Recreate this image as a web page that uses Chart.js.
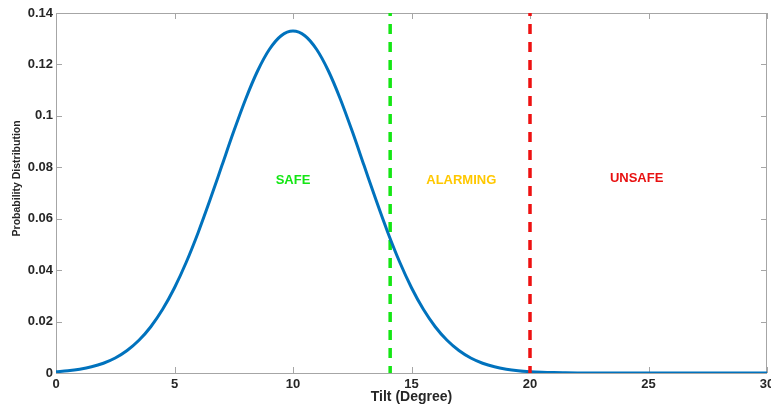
<!DOCTYPE html>
<html>
<head>
<meta charset="utf-8">
<script src="https://cdn.jsdelivr.net/npm/chart.js@4/dist/chart.umd.min.js"></script>
<style>
  html, body { margin: 0; padding: 0; background: #fff; }
  #wrap { width: 771px; height: 407px; }
</style>
</head>
<body>
<div id="wrap"><canvas id="js--chart"></canvas></div>
<script>
// tilt (degree) and probability
const tilt = [0, 0.5, 1, 1.5, 2, 2.5, 3, 3.5, 4, 4.5, 5, 5.5, 6, 6.5, 7, 7.5, 8, 8.5, 9, 9.5,
    10, 10.5, 11, 11.5, 12, 12.5, 13, 13.5, 14, 14.5, 15, 15.5, 16, 16.5, 17, 17.5, 18, 18.5, 19, 19.5,
    20, 20.5, 21, 21.5, 22, 22.5, 23, 23.5, 24, 24.5, 25, 25.5, 26, 26.5, 27, 27.5, 28, 28.5, 29, 29.5, 30];
const prob = [0.00051, 0.00088, 0.00148, 0.00240, 0.00380, 0.00584, 0.00874, 0.01272, 0.01800, 0.02477,
    0.03316, 0.04317, 0.05467, 0.06733, 0.08066, 0.09397, 0.10648, 0.11735, 0.12579, 0.13115,
    0.13298, 0.13115, 0.12579, 0.11735, 0.10648, 0.09397, 0.08066, 0.06733, 0.05467, 0.04317,
    0.03316, 0.02477, 0.01800, 0.01272, 0.00874, 0.00584, 0.00380, 0.00240, 0.00148, 0.00088,
    0.00051, 0.00029, 0.00016, 0.00009, 0.00004, 0.00002, 0.00001, 0, 0, 0,
    0, 0, 0, 0, 0, 0, 0, 0, 0, 0, 0];

// grenzen tussen de zones
const safeLimit = 14.1;
const alarmLimit = 20;

// zone teksten
const zoneNames = ["SAFE", "ALARMING", "UNSAFE"];
const zoneX = [10, 17.1, 24.5];
const zoneY = [0.0747, 0.0750, 0.0758];
const zoneColors = ["#14e614", "#ffc800", "#e81010"];

const xTicks = [0, 5, 10, 15, 20, 25, 30];
const yTicks = [0, 0.02, 0.04, 0.06, 0.08, 0.1, 0.12, 0.14];

let curve = [];
for (let i = 0; i < tilt.length; i++) {
    curve.push({ x: tilt[i], y: prob[i] });
}

const FONT = "'Liberation Sans', Arial, sans-serif";

// matlab achtige box met ticks naar binnen
const boxPlugin = {
    id: "box",
    beforeDatasetsDraw: function (chart) {
        const ctx = chart.ctx;
        const a = chart.chartArea;
        const xs = chart.scales.x;
        const ys = chart.scales.y;
        ctx.save();
        ctx.strokeStyle = "#a6a6a6";
        ctx.lineWidth = 1;
        ctx.strokeRect(a.left + 0.5, a.top + 0.5, a.right - a.left - 1, a.bottom - a.top);
        ctx.beginPath();
        xTicks.forEach(function (v) {
            const px = Math.round(xs.getPixelForValue(v)) + 0.5;
            ctx.moveTo(px, a.bottom);
            ctx.lineTo(px, a.bottom - 6);
            ctx.moveTo(px, a.top);
            ctx.lineTo(px, a.top + 6);
        });
        yTicks.forEach(function (v) {
            const py = Math.round(ys.getPixelForValue(v)) + 0.5;
            ctx.moveTo(a.left, py);
            ctx.lineTo(a.left + 6, py);
            ctx.moveTo(a.right, py);
            ctx.lineTo(a.right - 6, py);
        });
        ctx.stroke();
        ctx.restore();
    },
    afterDatasetsDraw: function (chart) {
        const ctx = chart.ctx;
        ctx.save();
        ctx.font = "bold 13px " + FONT;
        ctx.textAlign = "center";
        ctx.textBaseline = "middle";
        for (let i = 0; i < zoneNames.length; i++) {
            ctx.fillStyle = zoneColors[i];
            ctx.fillText(zoneNames[i],
                chart.scales.x.getPixelForValue(zoneX[i]),
                chart.scales.y.getPixelForValue(zoneY[i]));
        }
        ctx.restore();
    }
};

const config = {
    type: "line",
    data: {
        datasets: [
            {
                label: "alarm",
                data: [{ x: alarmLimit, y: 0.14 }, { x: alarmLimit, y: 0 }],
                borderColor: "#ee1111",
                borderWidth: 3.5,
                borderDash: [10, 8],
                borderDashOffset: 7,
                pointRadius: 0
            },
            {
                label: "Probability",
                data: curve,
                borderColor: "#0072bd",
                borderWidth: 3,
                pointRadius: 0,
                cubicInterpolationMode: "monotone"
            },
            {
                label: "safe",
                data: [{ x: safeLimit, y: 0.14 }, { x: safeLimit, y: 0 }],
                borderColor: "#14e614",
                borderWidth: 3.5,
                borderDash: [10, 8],
                borderDashOffset: 7,
                pointRadius: 0
            }
        ]
    },
    options: {
        responsive: true,
        maintainAspectRatio: false,
        animation: false,
        layout: { padding: { top: 13, right: 4, left: 0, bottom: 0 } },
        plugins: { legend: { display: false }, tooltip: { enabled: false } },
        scales: {
            x: {
                type: "linear",
                min: 0,
                max: 30,
                grid: { display: false, drawTicks: false },
                border: { display: false },
                ticks: {
                    stepSize: 5,
                    maxRotation: 0,
                    autoSkip: false,
                    padding: 4,
                    color: "#262626",
                    font: { family: FONT, size: 13, weight: "bold" }
                },
                title: {
                    display: true,
                    text: "Tilt (Degree)",
                    color: "#262626",
                    font: { family: FONT, size: 14, weight: "bold" },
                    padding: { top: 0, bottom: 1 }
                },
                afterFit: function (s) {
                    s.height = 34;
                    s.paddingLeft = 0;
                    s.paddingRight = 0;
                }
            },
            y: {
                min: 0,
                max: 0.14,
                grid: { display: false, drawTicks: false },
                border: { display: false },
                ticks: {
                    stepSize: 0.02,
                    padding: 3,
                    color: "#262626",
                    font: { family: FONT, size: 13, weight: "bold" },
                    callback: function (v) {
                        return String(Number(v.toFixed(2)));
                    }
                },
                title: {
                    display: true,
                    // spaties ervoor schuiven de tekst iets omhoog
                    text: "          Probability Distribution",
                    color: "#262626",
                    font: { family: FONT, size: 10.5, weight: "bold" },
                    padding: { top: 11, bottom: 0 }
                },
                afterFit: function (s) {
                    s.width = 56;
                    s.paddingTop = 0;
                    s.paddingBottom = 0;
                }
            }
        }
    },
    plugins: [boxPlugin]
};

new Chart(document.getElementById("js--chart"), config);
</script>
</body>
</html>
